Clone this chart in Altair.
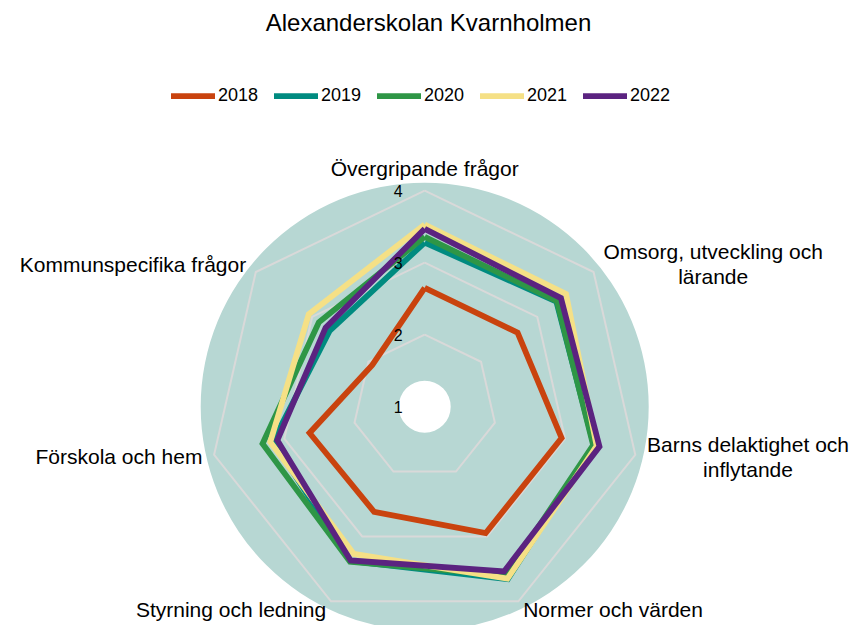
import math
import altair as alt
import pandas as pd

# ---------------- data ----------------
chart_title = "Alexanderskolan Kvarnholmen"
categories = [
    "Övergripande frågor",
    "Omsorg, utveckling och lärande",
    "Barns delaktighet och inflytande",
    "Normer och värden",
    "Styrning och ledning",
    "Förskola och hem",
    "Kommunspecifika frågor",
]
axis_labels = [
    "Övergripande frågor",
    "Omsorg, utveckling och\nlärande",
    "Barns delaktighet och\ninflytande",
    "Normer och värden",
    "Styrning och ledning",
    "Förskola och hem",
    "Kommunspecifika frågor",
]
years = ["2018", "2019", "2020", "2021", "2022"]
v2018 = [2.65, 2.65, 2.95, 2.95, 2.62, 2.64, 1.93]
v2019 = [3.28, 3.34, 3.41, 3.66, 3.38, 3.16, 2.69]
v2020 = [3.36, 3.35, 3.40, 3.60, 3.39, 3.31, 2.88]
v2021 = [3.53, 3.51, 3.45, 3.65, 3.27, 3.20, 3.06]
v2022 = [3.47, 3.42, 3.49, 3.54, 3.37, 3.10, 2.76]
colors = ["#C9430E", "#008B80", "#2E9646", "#F5E086", "#5B2380"]
grid_levels = [2, 3, 4]
tick_values = [1, 2, 3, 4]
r_min = 1

n = len(categories)
series = dict(zip(years, [v2018, v2019, v2020, v2021, v2022]))

rows = []
for yr, vals in series.items():
    for i in range(n + 1):
        rows.append({"year": yr, "idx": i, "value": vals[i % n]})
df = pd.DataFrame(rows)

grid_df = pd.DataFrame(
    [{"level": g, "idx": i} for g in grid_levels for i in range(n + 1)]
)
tick_df = pd.DataFrame({"tick": tick_values, "label": [str(t) for t in tick_values]})
label_df = pd.DataFrame({"idx": list(range(n)), "label": axis_labels})

# ---------------- scales ----------------
FONT = "Liberation Sans"
xs = alt.Scale(domain=[-5.7875, 5.893], nice=False, zero=False)
ys = alt.Scale(domain=[-3.032, 4.982], nice=False, zero=False)
ANG = f"2*PI*datum.idx/{n}"


def xy():
    return dict(
        x=alt.X("px:Q", scale=xs, axis=None),
        y=alt.Y("py:Q", scale=ys, axis=None),
    )


bg = (
    alt.Chart(alt.Data(values=[{"a": 0}]))
    .mark_arc(radius=224, radius2=26, theta=0, theta2=2 * math.pi, color="#B7D7D3")
    .encode(x=alt.X(datum=0, scale=xs, axis=None), y=alt.Y(datum=0, scale=ys, axis=None))
)

grid = (
    alt.Chart(grid_df)
    .transform_calculate(
        px=f"(datum.level-{r_min})*sin({ANG})",
        py=f"(datum.level-{r_min})*cos({ANG})",
    )
    .mark_line(color="#D9D9D9", strokeWidth=2)
    .encode(**xy(), detail="level:N", order="idx:Q")
)

ticks = (
    alt.Chart(tick_df)
    .transform_calculate(px="0", py=f"datum.tick-{r_min}")
    .mark_text(align="right", baseline="middle", dx=-22, dy=1.5, fontSize=16, font=FONT, color="black")
    .encode(**xy(), text="label:N")
)

lines = (
    alt.Chart(df)
    .transform_calculate(
        px=f"(datum.value-{r_min})*sin({ANG})",
        py=f"(datum.value-{r_min})*cos({ANG})",
    )
    .mark_line(strokeWidth=5.8, strokeJoin="miter")
    .encode(
        **xy(),
        color=alt.Color(
            "year:N",
            scale=alt.Scale(domain=years, range=colors),
            legend=alt.Legend(
                title=None,
                orient="none",
                legendX=160,
                legendY=23,
                direction="horizontal",
                symbolType="stroke",
                symbolSize=1936,
                symbolStrokeWidth=5.8,
                labelFontSize=18,
                labelFont=FONT,
                labelColor="black",
                columnPadding=3,
                labelOffset=0,
                padding=0,
            ),
        ),
        order="idx:Q",
    )
)

# axis category labels, placed just outside the disc
label_style = [
    dict(align="center", baseline="bottom", dx=0, dy=0),
    dict(align="center", baseline="middle", dx=111, dy=-12),
    dict(align="center", baseline="middle", dx=102, dy=-11.5),
    dict(align="left", baseline="middle", dx=0, dy=0),
    dict(align="right", baseline="middle", dx=0, dy=0),
    dict(align="right", baseline="middle", dx=-1, dy=1),
    dict(align="right", baseline="middle", dx=-1, dy=1),
]
LABEL_R = 227 / 72
label_layers = []
for i, st in enumerate(label_style):
    label_layers.append(
        alt.Chart(label_df)
        .transform_filter(f"datum.idx == {i}")
        .transform_calculate(px=f"{LABEL_R}*sin({ANG})", py=f"{LABEL_R}*cos({ANG})")
        .mark_text(fontSize=21, font=FONT, color="black", lineBreak="\n", lineHeight=25, **st)
        .encode(**xy(), text="label:N")
    )

chart = (
    alt.layer(bg, grid, lines, ticks, *label_layers)
    .properties(
        width=841,
        height=577,
        background="white",
        padding={"left": 0, "top": 40, "right": 0, "bottom": 0},
        autosize=alt.AutoSizeParams(type="none"),
        title=alt.TitleParams(
            text=chart_title,
            fontSize=24,
            font=FONT,
            fontWeight="normal",
            color="black",
            anchor="middle",
            baseline="alphabetic",
            offset=21,
            dy=28,
        ),
    )
    .configure_view(strokeWidth=0, stroke="transparent")
)

chart.save("out.html", embed_options={"renderer": "svg", "actions": False})
